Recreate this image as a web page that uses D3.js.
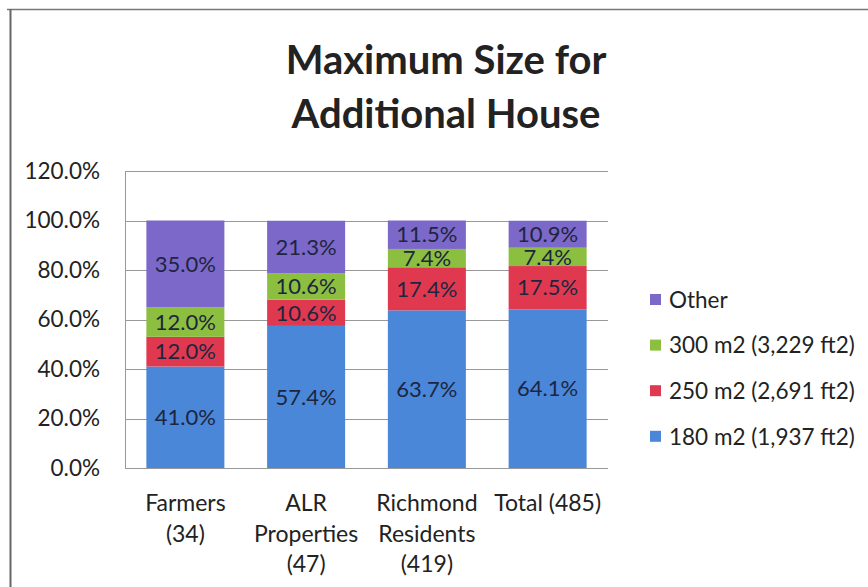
<!DOCTYPE html>
<meta charset="utf-8">
<style>
body { margin: 0; background: #fff; }
text { font-family: Lato, "Open Sans", sans-serif; }
.grid line { stroke: #999; stroke-width: 1; }
</style>
<svg width="868" height="587"></svg>
<script src="https://cdn.jsdelivr.net/npm/d3@7"></script>
<script>

var categories = [["Farmers", "(34)"], ["ALR", "Properties", "(47)"], ["Richmond", "Residents", "(419)"], ["Total (485)"]];
var seriesNames = ["180 m2 (1,937 ft2)", "250 m2 (2,691 ft2)", "300 m2 (3,229 ft2)", "Other"];
var seriesColors = ["#4a87d8", "#e0394f", "#8cbf3f", "#7c68c8"];
var s180 = [41.0, 57.4, 63.7, 64.1];
var s250 = [12.0, 10.6, 17.4, 17.5];
var s300 = [12.0, 10.6, 7.4, 7.4];
var sOther = [35.0, 21.3, 11.5, 10.9];
var yTicks = [0, 20, 40, 60, 80, 100, 120];

var svg = d3.select("svg");

// outer frame (only top and left edges visible in the crop)
svg.append("line").attr("x1", 7).attr("x2", 868).attr("y1", 9.5).attr("y2", 9.5)
    .attr("stroke", "#777").attr("stroke-width", 1.5);
svg.append("line").attr("x1", 10.5).attr("x2", 10.5).attr("y1", 9).attr("y2", 587)
    .attr("stroke", "#666").attr("stroke-width", 2);

// title
svg.append("text").attr("x", 446).attr("y", 74).attr("text-anchor", "middle")
    .attr("font-size", 40).attr("font-weight", "bold").attr("fill", "#222")
    .text("Maximum Size for");
svg.append("text").attr("x", 446).attr("y", 128).attr("text-anchor", "middle")
    .attr("font-size", 40).attr("font-weight", "bold").attr("fill", "#222")
    .text("Additional House");

var pLeft = 125, pRight = 608, pTop = 171, pBottom = 468;

var x = d3.scaleBand().domain(d3.range(categories.length))
    .range([pLeft, pRight]).paddingInner(0.354).paddingOuter(0.177);
var y = d3.scaleLinear().domain([0, 120]).range([pBottom, pTop]);

// gridlines
svg.append("g").attr("class", "grid")
  .selectAll("line").data(yTicks).enter().append("line")
    .attr("x1", pLeft).attr("x2", pRight)
    .attr("y1", function (d) { return Math.round(y(d)) + 0.5; })
    .attr("y2", function (d) { return Math.round(y(d)) + 0.5; });
svg.append("line").attr("x1", pLeft + 0.5).attr("x2", pLeft + 0.5)
    .attr("y1", pTop).attr("y2", pBottom).attr("stroke", "#999");

// y axis labels
var yAxis = d3.axisLeft(y).tickValues(yTicks).tickSize(0).tickPadding(25)
    .tickFormat(function (d) { return d.toFixed(1) + "%"; });
var ya = svg.append("g").attr("transform", "translate(" + pLeft + ",0)").call(yAxis);
ya.select(".domain").remove();
ya.selectAll("text").attr("font-size", 22.5).attr("fill", "#222")
    .style("font-family", "Lato, sans-serif");

// stacked data
var table = categories.map(function (c, i) {
  return { i: i, s0: s180[i], s1: s250[i], s2: s300[i], s3: sOther[i] };
});
var stack = d3.stack().keys(["s0", "s1", "s2", "s3"]);
var layers = stack(table);

var groups = svg.selectAll(".layer").data(layers).enter().append("g")
    .attr("fill", function (d, k) { return seriesColors[k]; });

groups.selectAll("rect").data(function (d) { return d; }).enter().append("rect")
    .attr("x", function (d) { return x(d.data.i); })
    .attr("width", x.bandwidth())
    .attr("y", function (d) { return y(d[1]); })
    .attr("height", function (d) { return y(d[0]) - y(d[1]); });

groups.selectAll("text").data(function (d) { return d; }).enter().append("text")
    .attr("x", function (d) { return x(d.data.i) + x.bandwidth() / 2; })
    .attr("y", function (d) { return (y(d[0]) + y(d[1])) / 2; })
    .attr("dy", "0.35em")
    .attr("text-anchor", "middle")
    .attr("font-size", 22)
    .attr("fill", "#1d2540")
    .text(function (d) { return (d[1] - d[0]).toFixed(1) + "%"; });

// x labels
var xl = svg.selectAll(".xlab").data(categories).enter().append("text")
    .attr("text-anchor", "middle")
    .attr("font-size", 23).attr("fill", "#222")
    .attr("transform", function (d, i) {
      return "translate(" + (x(i) + x.bandwidth() / 2) + ",511)";
    });
xl.selectAll("tspan").data(function (d) { return d; }).enter().append("tspan")
    .attr("x", 0).attr("y", function (d, k) { return k * 30.5; })
    .text(function (d) { return d; });

// legend
var legendOrder = [3, 2, 1, 0];
var lg = svg.selectAll(".leg").data(legendOrder).enter().append("g")
    .attr("transform", function (d, k) { return "translate(650," + (300 + k * 45.6) + ")"; });
lg.append("rect").attr("x", 0).attr("y", -6).attr("width", 11).attr("height", 11)
    .attr("fill", function (d) { return seriesColors[d]; });
lg.append("text").attr("x", 19).attr("dy", "0.35em").attr("font-size", 22.5)
    .attr("fill", "#222").text(function (d) { return seriesNames[d]; });

</script>
